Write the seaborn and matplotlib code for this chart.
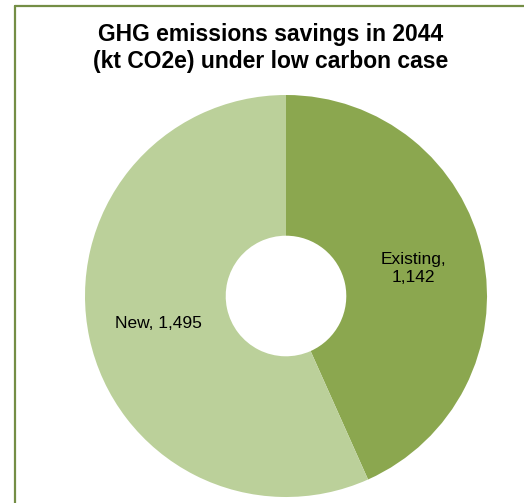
import matplotlib
matplotlib.use("Agg")
import matplotlib.pyplot as plt
from matplotlib.lines import Line2D
import numpy as np
import seaborn as sns

categories = ["Existing", "New"]
savings_kt = [1142, 1495]
colors = ["#8BA74F", "#BBD09A"]

sns.set_theme(style="white")
plt.rcParams["font.family"] = ["Liberation Sans", "DejaVu Sans"]

W, H = 524, 503
fig = plt.figure(figsize=(W / 100, H / 100), dpi=100)
fig.patch.set_facecolor("white")

# Donut placed with centre at (286, 296) px and outer radius 201 px
cx, cy, r = 286, 296, 201
ax = fig.add_axes([(cx - r) / W, (H - cy - r) / H, 2 * r / W, 2 * r / H])
hole = 0.30
wedges, _ = ax.pie(
    savings_kt,
    colors=colors,
    startangle=90,
    counterclock=False,
    radius=1.0,
    wedgeprops=dict(width=1.0 - hole, edgecolor="none"),
)
ax.set_xlim(-1, 1)
ax.set_ylim(-1, 1)
ax.set_aspect("equal")
ax.axis("off")

# Category labels at the middle of each ring segment
label_r = (1.0 + hole) / 2
for w, name, val in zip(wedges, categories, savings_kt):
    mid = np.deg2rad((w.theta1 + w.theta2) / 2)
    txt = f"{name},\n{val:,}" if name == "Existing" else f"{name}, {val:,}"
    ax.text(label_r * np.cos(mid), label_r * np.sin(mid), txt,
            ha="center", va="center", fontsize=12.5, color="black",
            linespacing=1.25)

fig.text(271 / W, 1 - 48 / H,
         "GHG emissions savings in 2044\n(kt CO2e) under low carbon case",
         ha="center", va="center", fontsize=16.5, fontweight="bold",
         color="black", linespacing=1.25)

# Chart frame (top and left edges visible)
frame_color = "#748E45"
fig.add_artist(Line2D([14.5 / W, 14.5 / W], [0, 1 - 6 / H],
                      transform=fig.transFigure, color=frame_color, lw=1.6))
fig.add_artist(Line2D([14.5 / W, 1], [1 - 6 / H, 1 - 6 / H],
                      transform=fig.transFigure, color=frame_color, lw=1.6))

fig.savefig("out.png", dpi=100, facecolor="white")
